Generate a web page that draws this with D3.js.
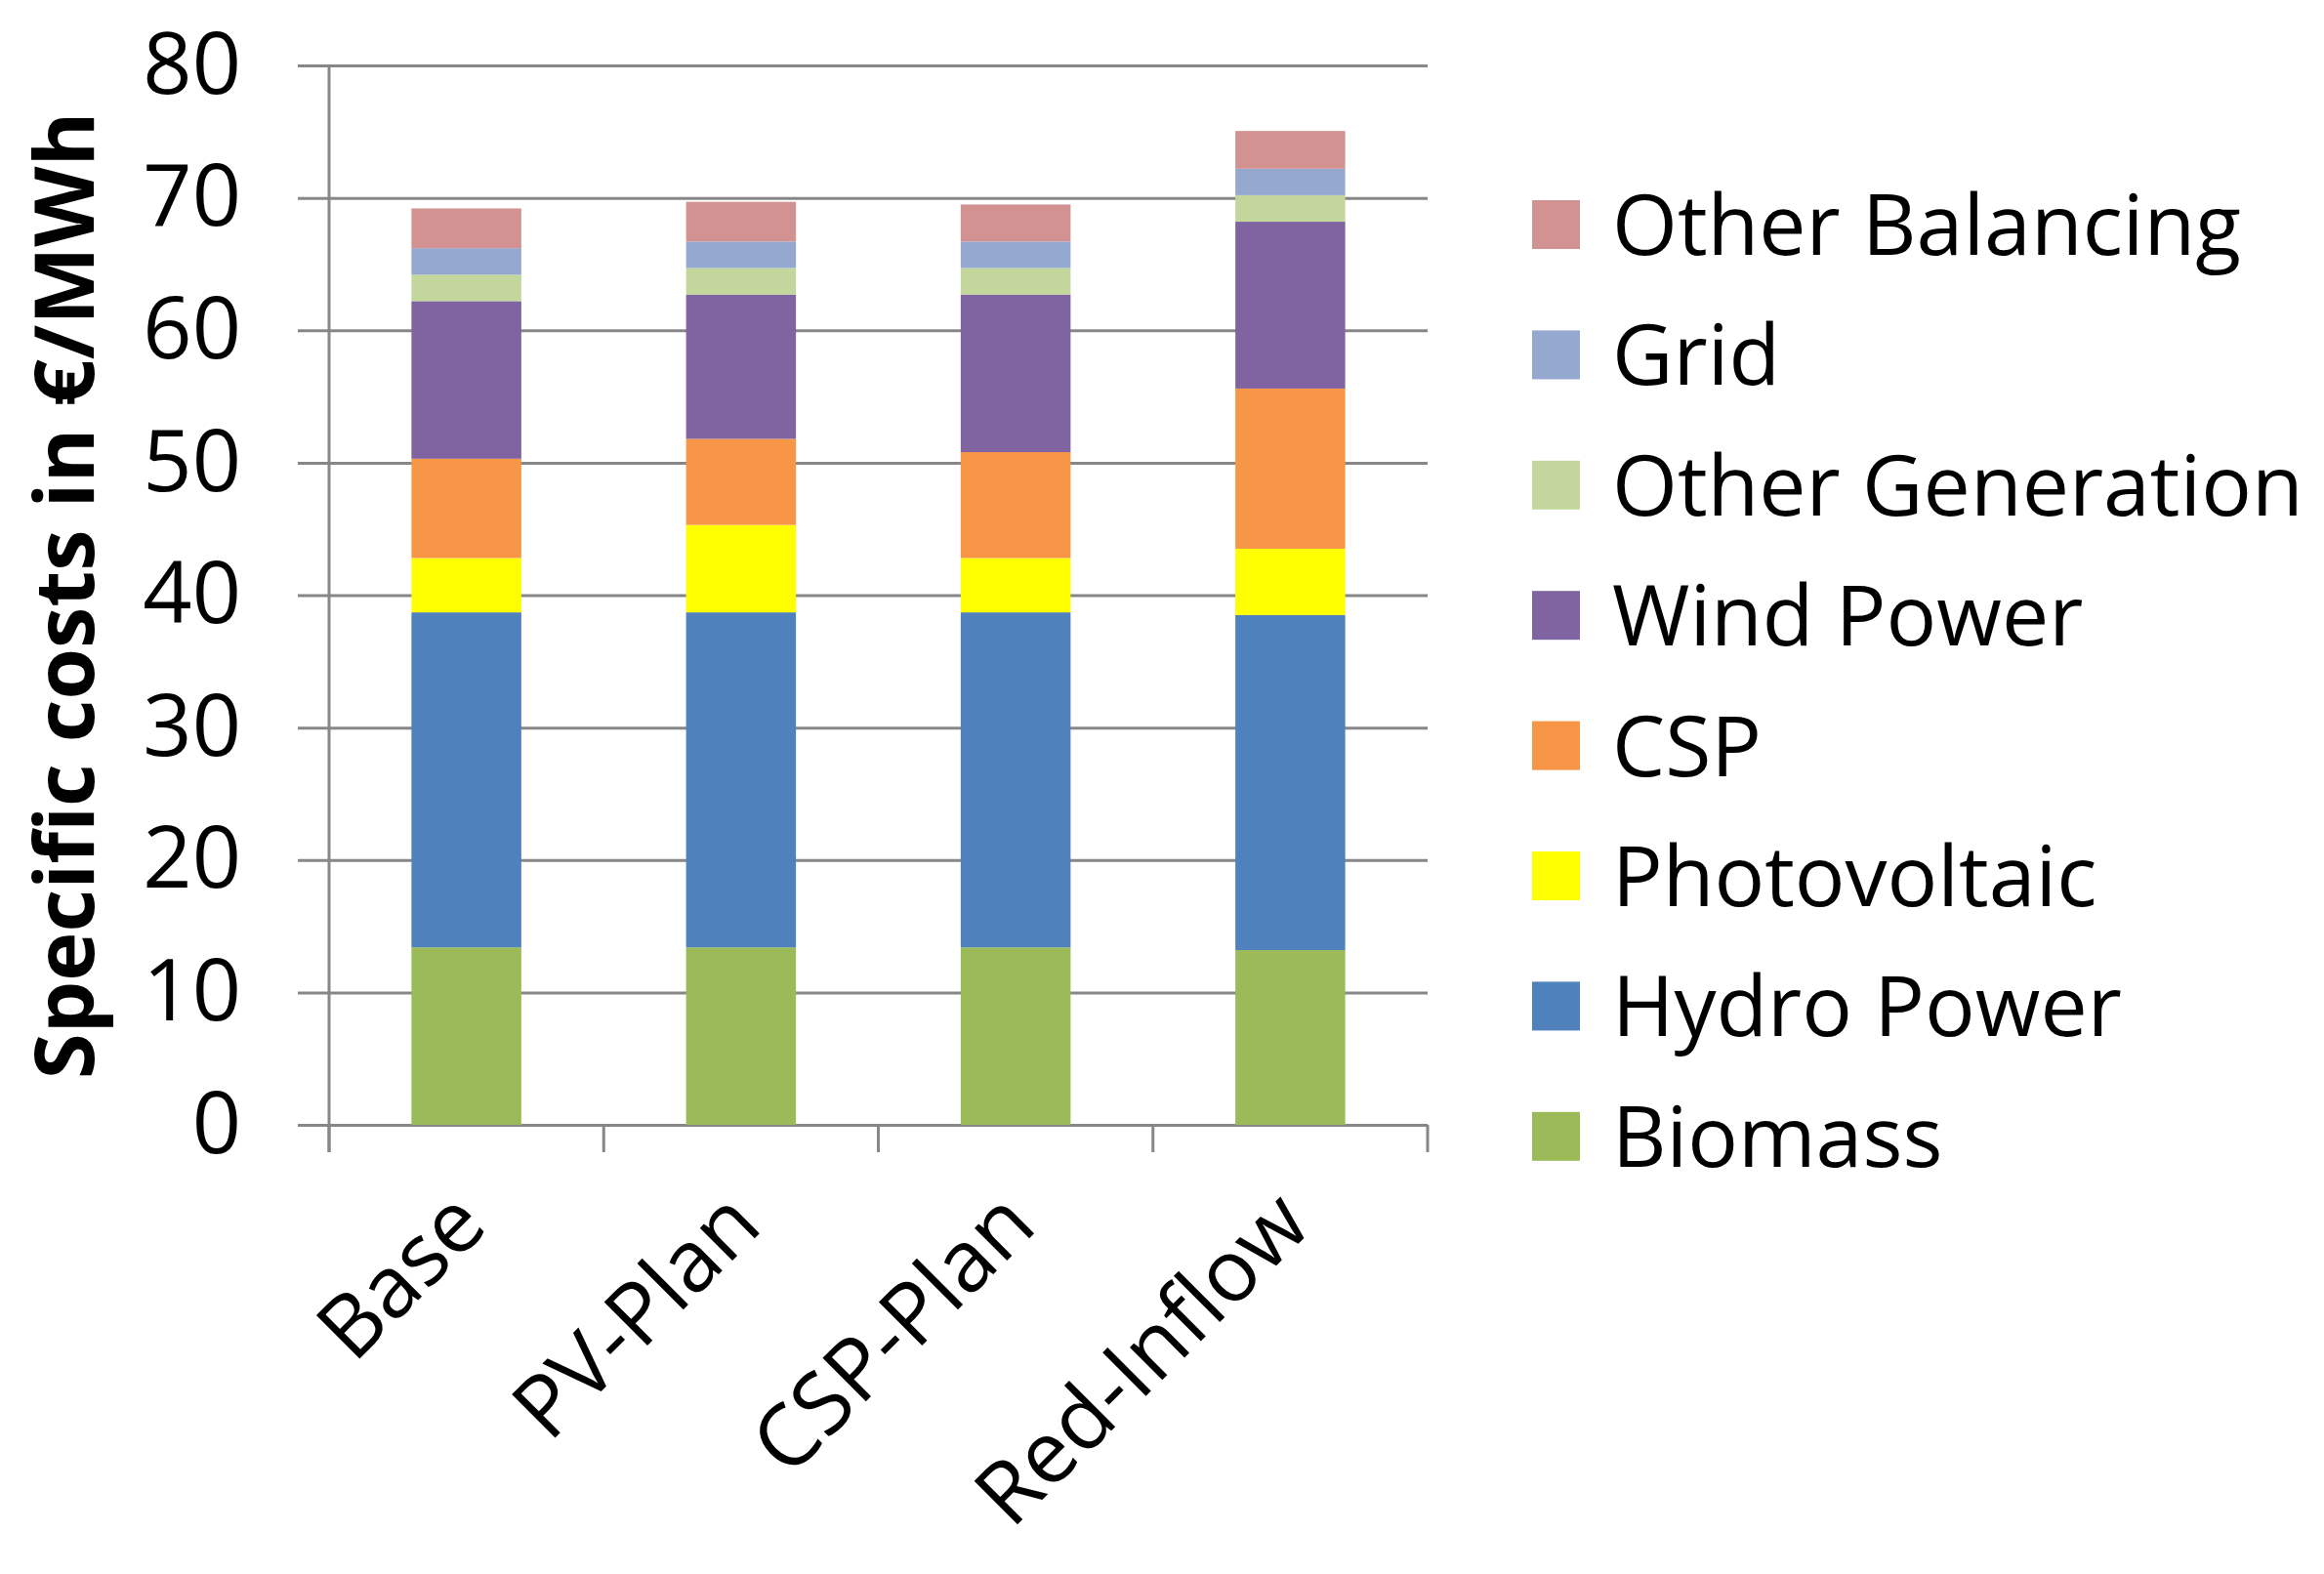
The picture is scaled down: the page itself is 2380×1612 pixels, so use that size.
<!DOCTYPE html>
<html>
<head>
<meta charset="utf-8">
<script src="https://cdn.jsdelivr.net/npm/d3@7"></script>
<style>
  body { margin: 0; background: #fff; }
  text { font-family: "Open Sans", sans-serif; fill: #000; }
</style>
</head>
<body>
<div id="chart"></div>
<script>
// data (€/MWh)
const categories = ["Base", "PV-Plan", "CSP-Plan", "Red-Inflow"];
const seriesNames = ["Biomass", "Hydro Power", "Photovoltaic", "CSP", "Wind Power", "Other Generation", "Grid", "Other Balancing"];
const biomass = [13.4, 13.4, 13.4, 13.2];
const hydro = [25.3, 25.3, 25.3, 25.3];
const photovoltaic = [4.1, 6.6, 4.1, 5.0];
const csp = [7.5, 6.5, 8.0, 12.1];
const wind = [11.9, 10.9, 11.9, 12.6];
const otherGeneration = [2.0, 2.0, 2.0, 2.0];
const grid = [2.0, 2.0, 2.0, 2.0];
const otherBalancing = [3.0, 3.0, 2.8, 2.85];
const yTicks = [0, 10, 20, 30, 40, 50, 60, 70, 80];

const colors = ["#9BBB59", "#4F81BD", "#FFFF00", "#F79646", "#8064A2", "#C3D69B", "#95A9D0", "#D29291"];

const W = 2380, H = 1612;
const plot = { left: 337, right: 1462, top: 67, bottom: 1152 };

const svg = d3.select("#chart").append("svg")
    .attr("width", W)
    .attr("height", H);

// build rows for d3.stack
const columns = [biomass, hydro, photovoltaic, csp, wind, otherGeneration, grid, otherBalancing];
const rows = categories.map((c, i) => {
    const r = { category: c };
    seriesNames.forEach((s, j) => { r[s] = columns[j][i]; });
    return r;
});
const stacked = d3.stack().keys(seriesNames)(rows);

const xCat = d3.scaleBand()
    .domain(categories)
    .range([plot.left, plot.right])
    .padding(0);

const y = d3.scaleLinear()
    .domain([0, 80])
    .range([plot.bottom, plot.top]);

// gridlines + y labels
const yAxis = svg.append("g")
    .attr("transform", "translate(305,0)")
    .call(d3.axisLeft(y).tickValues(yTicks).tickSize(-(plot.right - 305)).tickPadding(58));
yAxis.select(".domain").remove();
yAxis.selectAll(".tick line").attr("stroke", "#878787").attr("stroke-width", 3);
yAxis.selectAll(".tick text").style("font-size", "88px").attr("fill", "#000");

// vertical axis line
svg.append("line")
    .attr("x1", plot.left).attr("x2", plot.left)
    .attr("y1", y(80)).attr("y2", plot.bottom + 28)
    .attr("stroke", "#878787").attr("stroke-width", 3);

// category separator ticks
const bounds = categories.map(c => xCat(c)).concat([plot.right]);
svg.append("g").selectAll("line")
    .data(bounds)
    .enter().append("line")
    .attr("x1", d => d).attr("x2", d => d)
    .attr("y1", plot.bottom).attr("y2", plot.bottom + 28)
    .attr("stroke", "#878787").attr("stroke-width", 3);

// bars
const barW = xCat.bandwidth() * 0.4;
svg.append("g").selectAll("g")
    .data(stacked)
    .enter().append("g")
    .attr("fill", (d, i) => colors[i])
    .selectAll("rect")
    .data(d => d)
    .enter().append("rect")
    .attr("x", d => xCat(d.data.category) + (xCat.bandwidth() - barW) / 2)
    .attr("y", d => y(d[1]))
    .attr("width", barW)
    .attr("height", d => y(d[0]) - y(d[1]));

// category labels, rotated
svg.append("g").selectAll("text")
    .data(categories)
    .enter().append("text")
    .attr("transform", d => "translate(" + (xCat(d) + xCat.bandwidth() / 2 + 24) + "," + 1258 + ") rotate(-45)")
    .attr("text-anchor", "end")
    .style("font-size", "88px")
    .text(d => d);

// y title
svg.append("text")
    .attr("transform", "translate(96,610) rotate(-90)")
    .attr("text-anchor", "middle")
    .style("font-size", "85px")
    .style("font-weight", "bold")
    .text("Specific costs in €/MWh");

// legend, top entry = last series
const legendItems = seriesNames.map((s, i) => ({ name: s, color: colors[i] })).reverse();
const legend = svg.append("g").selectAll("g")
    .data(legendItems)
    .enter().append("g")
    .attr("transform", (d, i) => "translate(1569," + (230 + i * 133.4) + ")");
legend.append("rect")
    .attr("x", 0).attr("y", -25)
    .attr("width", 49).attr("height", 50)
    .attr("fill", d => d.color);
legend.append("text")
    .attr("x", 82).attr("y", 0)
    .attr("dy", "0.36em")
    .style("font-size", "86px")
    .text(d => d.name);
</script>
</body>
</html>
